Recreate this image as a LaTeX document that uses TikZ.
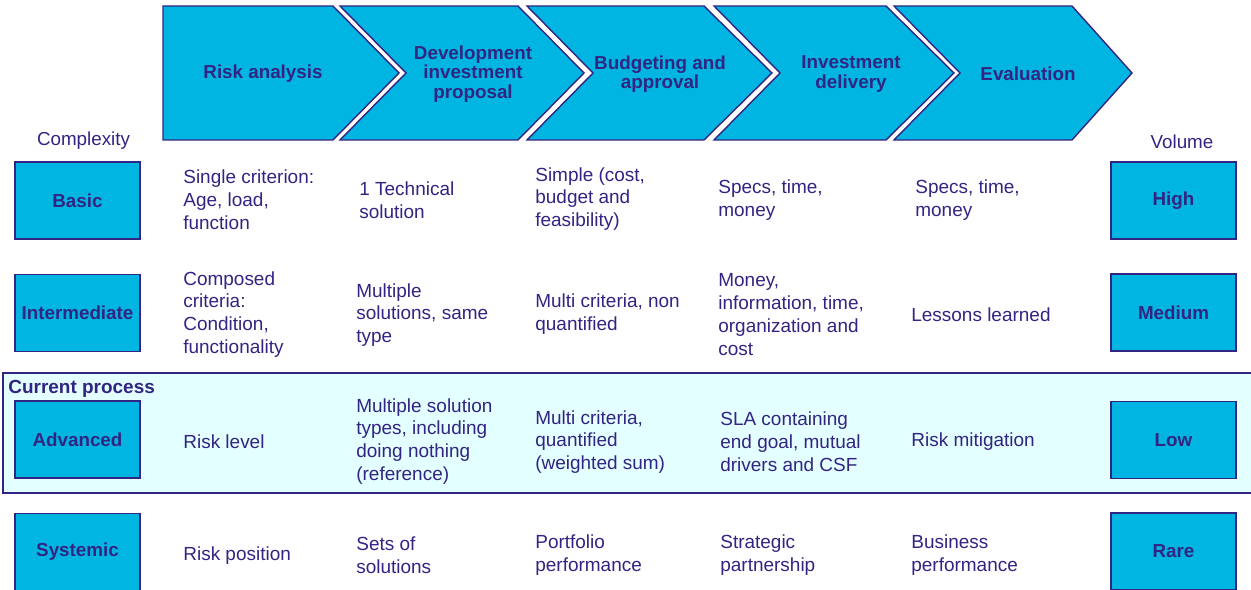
\documentclass[tikz,border=0pt]{standalone}
\usepackage{fontspec}
\setmainfont{Liberation Sans}
\usetikzlibrary{positioning}
\definecolor{stageblue}{RGB}{0,181,226}
\definecolor{inkpurple}{RGB}{50,36,130}
\definecolor{currentfill}{RGB}{228,255,255}

\begin{document}
\begin{tikzpicture}[x=0.02cm, y=-0.02cm,
    stage/.style={fill=stageblue, draw=inkpurple, line width=0.8pt, line join=miter},
    stagelabel/.style={align=center, text=inkpurple, font=\fontsize{10.7}{11}\selectfont\bfseries},
    levelbox/.style={rectangle, fill=stageblue, draw=inkpurple, line width=0.9pt, minimum width=2.5cm, minimum height=1.54cm, inner sep=0pt, text=inkpurple, font=\fontsize{10.7}{12}\selectfont\bfseries},
    cell/.style={anchor=west, align=left, inner sep=0pt, text=inkpurple, font=\fontsize{10.8}{13}\selectfont},
    header/.style={text=inkpurple, font=\fontsize{10.7}{12}\selectfont}
]
\useasboundingbox (0,0) rectangle (1251,590);

% Process stages (chevrons)
\draw[stage] (163,6) -- (333,6) -- (399,73) -- (333,140) -- (163,140) -- cycle;
\foreach \a/\b/\d in {340/518/66, 527/704/68, 714/886/68, 894/1072/60}
  \draw[stage] (\a,6) -- (\b,6) -- ++(\d,67) -- (\b,140) -- (\a,140) -- ++(66,-67) -- cycle;

\node[stagelabel] (risk) at (263,74) {Risk analysis};
\node[stagelabel] (proposal) at (473,74) {Development\\investment\\proposal};
\node[stagelabel] (budget) at (660,74) {Budgeting and\\approval};
\node[stagelabel] (delivery) at (851,74) {Investment\\delivery};
\node[stagelabel] (evaluation) at (1028,74) {Evaluation};

% Current process band
\draw[fill=currentfill, draw=inkpurple, line width=0.8pt] (3,373) rectangle (1254,493);
\node[anchor=west, inner sep=0pt, text=inkpurple, font=\fontsize{10.8}{12}\selectfont\bfseries] (current) at (8,389) {Current process};

% Complexity levels
\node[header] (complexity) at (83.5,141) {Complexity};
\node[levelbox] (basic) at (77.5,200.5) {Basic};
\node[levelbox] (intermediate) at (77.5,313) {Intermediate};
\node[levelbox] (advanced) at (77.5,439.5) {Advanced};
\node[levelbox] (systemic) at (77.5,552) {Systemic};

% Volume levels
\node[header] (volume) at (1182,142) {Volume};
\node[levelbox] (high) at (1173.5,200.5) {High};
\node[levelbox] (medium) at (1173.5,312.5) {Medium};
\node[levelbox] (low) at (1173.5,440) {Low};
\node[levelbox] (rare) at (1173.5,551.5) {Rare};

% Basic
\node[cell] (b1) at (183,200) {Single criterion:\\Age, load,\\function};
\node[cell] (b2) at (359,200) {1 Technical\\solution};
\node[cell] (b3) at (535,199) {Simple (cost,\\budget and\\feasibility)};
\node[cell] (b4) at (718,200) {Specs, time,\\money};
\node[cell] (b5) at (915,200) {Specs, time,\\money};

% Intermediate
\node[cell] (i1) at (183,314.5) {Composed\\criteria:\\Condition,\\functionality};
\node[cell] (i2) at (356,315) {Multiple\\solutions, same\\type};
\node[cell] (i3) at (535,314.5) {Multi criteria, non\\quantified};
\node[cell] (i4) at (718,314.5) {Money,\\information, time,\\organization and\\cost};
\node[cell] (i5) at (911,315) {Lessons learned};

% Advanced
\node[cell] (a1) at (183,442) {Risk level};
\node[cell] (a2) at (356,441.5) {Multiple solution\\types, including\\doing nothing\\(reference)};
\node[cell] (a3) at (535,442) {Multi criteria,\\quantified\\(weighted sum)};
\node[cell] (a4) at (720,442) {SLA containing\\end goal, mutual\\drivers and CSF};
\node[cell] (a5) at (911,442) {Risk mitigation};

% Systemic
\node[cell] (s1) at (183,556) {Risk position};
\node[cell] (s2) at (356,555.5) {Sets of\\solutions};
\node[cell] (s3) at (535,555.5) {Portfolio\\performance};
\node[cell] (s4) at (720,555.5) {Strategic\\partnership};
\node[cell] (s5) at (911,555.5) {Business\\performance};

\end{tikzpicture}
\end{document}
